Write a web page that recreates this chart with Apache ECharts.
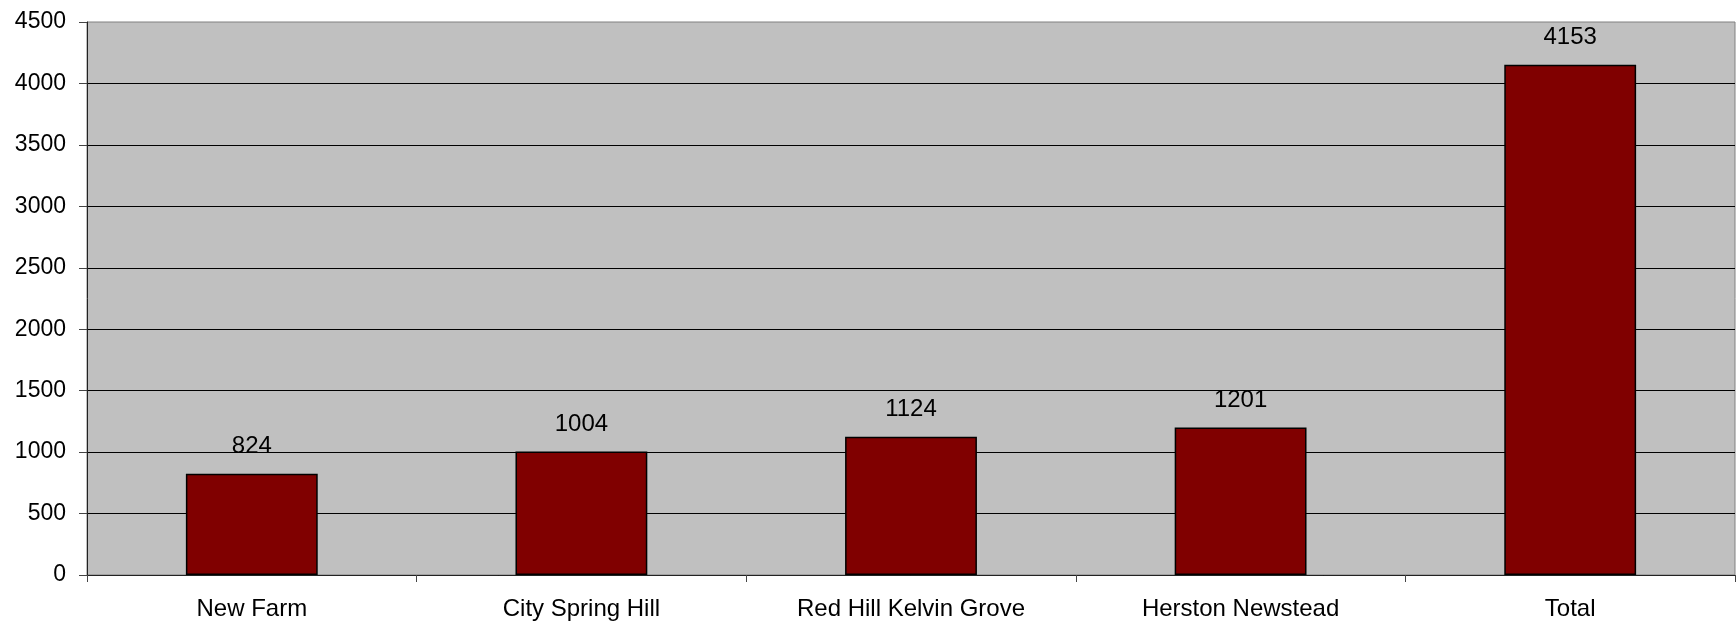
<!DOCTYPE html>
<html>
<head>
<meta charset="utf-8">
<title>Suburbs</title>
<script src="https://cdn.jsdelivr.net/npm/echarts@6/dist/echarts.min.js"></script>
<style>
  html, body { margin: 0; padding: 0; background: #fff; }
  #main { width: 1736px; height: 623px; }
</style>
</head>
<body>
<div id="main"></div>
<script>
// data
var categories = ['New Farm', 'City Spring Hill', 'Red Hill Kelvin Grove', 'Herston Newstead', 'Total'];
var values = [824, 1004, 1124, 1201, 4153];
var yMin = 0, yMax = 4500, yStep = 500;

var font = 'Liberation Sans, Arial, sans-serif';

var chart = echarts.init(document.getElementById('main'), null, { renderer: 'canvas' });

chart.setOption({
  animation: false,
  backgroundColor: '#ffffff',
  grid: {
    left: 87
    ,right: 1
    ,top: 22
    ,bottom: 48
    ,show: true
    ,backgroundColor: '#c0c0c0'
    ,borderColor: '#808080'
    ,borderWidth: 1
  },
  xAxis: {
    type: 'category',
    data: categories,
    axisLine: { show: true, lineStyle: { color: '#222', width: 1 } },
    axisTick: { show: true, alignWithLabel: false, length: 7, lineStyle: { color: '#444' } },
    axisLabel: { margin: 22, fontSize: 24, color: '#000', fontFamily: font }
  },
  yAxis: {
    type: 'value',
    min: yMin,
    max: yMax,
    interval: yStep,
    axisLine: { show: true, lineStyle: { color: '#222', width: 1 } },
    axisTick: { show: true, length: 8, lineStyle: { color: '#444' } },
    axisLabel: {
      margin: 21, fontSize: 23, color: '#000', fontFamily: font,
      formatter: function (v) { return String(v); }
    },
    splitLine: { show: true, showMaxLine: false, lineStyle: { color: '#000', width: 1 } }
  },
  series: [{
    type: 'bar',
    data: values,
    barWidth: '40%',
    itemStyle: { color: '#800000', borderColor: '#000', borderWidth: 1.5 },
    label: {
      show: true
      ,position: 'top'
      ,distance: 15
      ,fontSize: 24
      ,color: '#000'
      ,fontFamily: font
    }
  }]
});
</script>
</body>
</html>
